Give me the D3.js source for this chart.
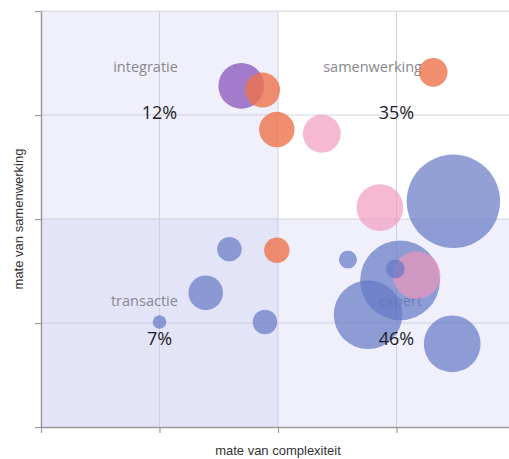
<!DOCTYPE html>
<html>
<head>
<meta charset="utf-8">
<script src="https://cdn.jsdelivr.net/npm/d3@7"></script>
<style>
  html, body { margin: 0; padding: 0; background: #fff; }
  svg { display: block; }
</style>
</head>
<body>
<svg id="chart" width="509" height="459"></svg>
<script>
// ---- data ----
const xTicks = [0, 1, 2, 3, 4];
const yTicks = [0, 1, 2, 3, 4];
const bubbleX = [1.69, 1.87, 1.99, 2.37, 3.31, 2.86, 3.48, 1.59, 1.99, 2.59, 3.03, 2.76, 3.17, 2.99, 1.39, 3.47, 1.0, 1.89];
const bubbleY = [3.28, 3.24, 2.86, 2.82, 3.41, 2.11, 2.17, 1.71, 1.70, 1.61, 1.41, 1.08, 1.46, 1.52, 1.29, 0.80, 1.01, 1.01];
const bubbleSize = [24, 14, 14.4, 16.5, 9.4, 25, 100, 6.9, 7.4, 3.7, 73, 54, 26, 4, 13.7, 37, 2.1, 6.9];
const bubbleGroup = ["paars", "oranje", "oranje", "roze", "oranje", "roze", "blauw", "blauw", "oranje", "blauw", "blauw", "blauw", "roze", "blauw", "blauw", "blauw", "blauw", "blauw"];
const quadrantNames = ["integratie", "samenwerking", "transactie", "expert"];
const quadrantNameX = [1.155, 3.215, 1.155, 3.215];
const quadrantNameY = [3.414, 3.414, 1.164, 1.164];
const quadrantPct = ["12%", "35%", "7%", "46%"];
const quadrantPctX = [1, 3, 1, 3];
const quadrantPctY = [2.962, 2.962, 0.788, 0.788];
const xTitle = "mate van complexiteit";
const yTitle = "mate van samenwerking";

// ---- layout ----
const svg = d3.select("#chart");
const x = d3.scaleLinear().domain([0, 4]).range([41, 515]);
const y = d3.scaleLinear().domain([0, 4]).range([427, 11]);
const r = d3.scaleSqrt().domain([0, 100]).range([0, 46.7]);
const colors = {
  blauw: { fill: "rgb(100,120,196)", op: 0.7 },
  roze: { fill: "rgb(240,150,185)", op: 0.66 },
  oranje: { fill: "rgb(238,115,76)", op: 0.8 },
  paars: { fill: "rgb(150,106,196)", op: 0.88 }
};

svg.append("defs").append("clipPath").attr("id", "plot")
  .append("rect").attr("x", x(0)).attr("y", y(4)).attr("width", x(4) - x(0)).attr("height", y(0) - y(4));

const plot = svg.append("g").attr("clip-path", "url(#plot)");

// quadrant shading (two translucent layers)
plot.append("rect").attr("x", x(0)).attr("y", y(4)).attr("width", x(2) - x(0)).attr("height", y(0) - y(4))
  .attr("fill", "rgb(180,180,240)").attr("fill-opacity", 0.2);
plot.append("rect").attr("x", x(0)).attr("y", y(2)).attr("width", x(4) - x(0)).attr("height", y(0) - y(2))
  .attr("fill", "rgb(180,180,240)").attr("fill-opacity", 0.2);

// grid
plot.selectAll("line.gx").data(xTicks.slice(1)).join("line")
  .attr("x1", d => x(d)).attr("x2", d => x(d)).attr("y1", y(0)).attr("y2", y(4))
  .attr("stroke", "rgb(208,208,222)").attr("stroke-width", 1);
plot.selectAll("line.gy").data(yTicks.slice(1)).join("line")
  .attr("x1", x(0)).attr("x2", x(4)).attr("y1", d => y(d)).attr("y2", d => y(d))
  .attr("stroke", "rgb(208,208,222)").attr("stroke-width", 1);

// quadrant names (under bubbles)
plot.selectAll("text.qn").data(quadrantNames).join("text")
  .attr("x", (d, i) => x(quadrantNameX[i])).attr("y", (d, i) => y(quadrantNameY[i]))
  .attr("text-anchor", "end")
  .attr("font-family", "'Open Sans', sans-serif").attr("font-size", 14.5)
  .attr("fill", "#88888e").text(d => d);

// bubbles
plot.selectAll("circle").data(bubbleX.map((v, i) => i)).join("circle")
  .attr("cx", i => x(bubbleX[i])).attr("cy", i => y(bubbleY[i])).attr("r", i => r(bubbleSize[i]))
  .attr("fill", i => colors[bubbleGroup[i]].fill)
  .attr("fill-opacity", i => colors[bubbleGroup[i]].op);

// percentages
svg.selectAll("text.pct").data(quadrantPct).join("text")
  .attr("x", (d, i) => x(quadrantPctX[i])).attr("y", (d, i) => y(quadrantPctY[i]))
  .attr("text-anchor", "middle")
  .attr("font-family", "'Open Sans', sans-serif").attr("font-size", 18)
  .attr("fill", "#1e1e28").text(d => d);

// top border
svg.append("line").attr("x1", x(0)).attr("x2", x(4)).attr("y1", y(4)).attr("y2", y(4))
  .attr("stroke", "rgb(222,222,226)");

// axes
const xAxis = svg.append("g").attr("transform", `translate(0,${y(0)})`)
  .call(d3.axisBottom(x).tickValues(xTicks).tickSize(6).tickSizeOuter(0).tickFormat(""));
const yAxis = svg.append("g").attr("transform", `translate(${x(0)},0)`)
  .call(d3.axisLeft(y).tickValues(yTicks).tickSize(6).tickSizeOuter(0).tickFormat(""));
[xAxis, yAxis].forEach(a => {
  a.select(".domain").attr("stroke", "#9a9a9a").attr("stroke-width", 1.5);
  a.selectAll(".tick line").attr("stroke", "#9a9a9a").attr("stroke-width", 1.2);
});

// axis titles
svg.append("text").attr("x", x(2)).attr("y", 455).attr("text-anchor", "middle")
  .attr("font-family", "'Liberation Sans', Arial, sans-serif").attr("font-size", 13)
  .attr("fill", "#333").text(xTitle);
svg.append("text").attr("transform", `translate(23,${y(2)}) rotate(-90)`).attr("text-anchor", "middle")
  .attr("font-family", "'Liberation Sans', Arial, sans-serif").attr("font-size", 13)
  .attr("fill", "#333").text(yTitle);
</script>
</body>
</html>
